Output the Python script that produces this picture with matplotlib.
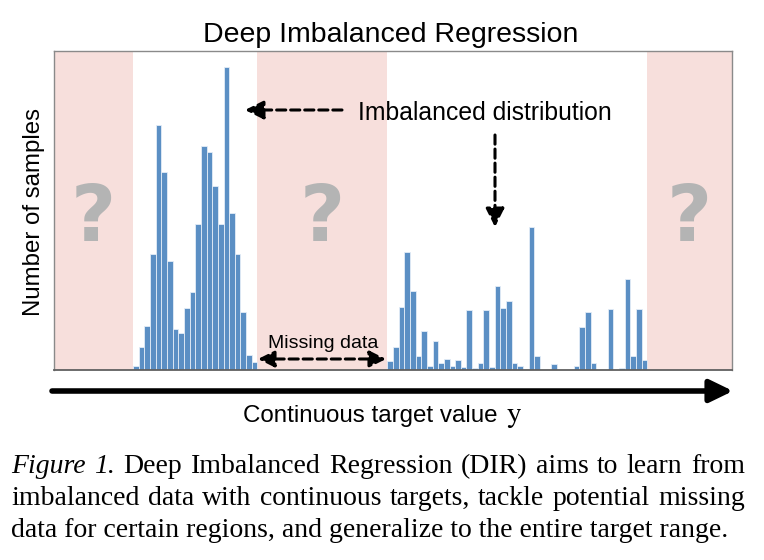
import numpy as np
import matplotlib
matplotlib.use('Agg')
import matplotlib.pyplot as plt

plt.rcParams['font.family'] = ['Liberation Sans', 'DejaVu Sans']
plt.rcParams['mathtext.fontset'] = 'stix'

# one bin = one unit on the x axis, values = number of samples per bin
n_bins = 120
left_start = 14
left_counts = [4, 23, 44, 116, 245, 198, 109, 41, 37, 62, 78, 146, 224, 218,
               184, 146, 303, 157, 116, 58, 15, 8]
right_start = 59
right_counts = [9, 23, 63, 118, 79, 14, 39, 4, 29, 7, 11, 4, 10, 3, 60, 2, 7,
                60, 3, 84, 62, 69, 7, 4, 1, 143, 14, 0, 0, 6, 0, 0, 0, 4, 43,
                58, 7, 0, 0, 61, 0, 2, 91, 14, 61, 10]
# bin ranges with no data at all
empty_regions = [(0, 14), (36, 59), (105, 120)]

title = 'Deep Imbalanced Regression'
caption_lines = [
    'Figure 1. Deep Imbalanced Regression (DIR) aims to learn from',
    'imbalanced data with continuous targets, tackle potential missing',
    'data for certain regions, and generalize to the entire target range.',
]

W, H = 764, 560
fig = plt.figure(figsize=(W / 100, H / 100), dpi=100)


def P(x, y):
    # image pixel (top-left origin) -> figure pixels
    return (x, H - y)


ax = fig.add_axes([54 / W, 1 - 370 / H, 678 / W, 319 / H])

for a, b in empty_regions:
    ax.axvspan(a, b, color='#f7dfdc', lw=0, zorder=0)
    ax.text((a + b) / 2, 151, '?', ha='center', va='center', fontsize=56,
            fontweight='bold', color='#b4b4b4', family='DejaVu Sans', zorder=1)

bar_style = dict(width=1, align='edge', color='#5b8fc4', edgecolor='#e4edf7',
                 linewidth=0.6, zorder=2)
ax.bar(left_start + np.arange(len(left_counts)), left_counts, **bar_style)
ax.bar(right_start + np.arange(len(right_counts)), right_counts, **bar_style)

ax.set_xlim(0, n_bins)
ax.set_ylim(0, 319)
ax.set_xticks([])
ax.set_yticks([])
for s in ['top', 'left', 'right']:
    ax.spines[s].set_color('#8a8a8a')
    ax.spines[s].set_linewidth(1)
ax.spines['bottom'].set_color('#606060')
ax.spines['bottom'].set_linewidth(1.3)

fig.text(*P(391, 42), title, transform=None, ha='center', va='baseline', fontsize=20.5)
fig.text(*P(34, 212), 'Number of samples', transform=None, rotation=90,
         ha='center', va='center', fontsize=17.3)

dash = dict(color='k', lw=2.2, ls=(0, (3, 1.6)), shrinkA=0, shrinkB=0,
            mutation_scale=14)
ax.annotate('', xy=P(245, 110), xytext=P(342, 110), xycoords='figure pixels',
            arrowprops=dict(arrowstyle='-|>,head_length=0.8,head_width=0.4', **dash))
fig.text(*P(358, 120), 'Imbalanced distribution', transform=None,
         ha='left', va='baseline', fontsize=17.8)
ax.annotate('', xy=P(495, 227), xytext=P(495, 135), xycoords='figure pixels',
            arrowprops=dict(arrowstyle='-|>,head_length=0.8,head_width=0.4', **dash))

fig.text(*P(323, 348), 'Missing data', transform=None, ha='center',
         va='baseline', fontsize=14)
ax.annotate('', xy=P(258, 359), xytext=P(386, 359), xycoords='figure pixels',
            arrowprops=dict(arrowstyle='<|-|>,head_length=0.7,head_width=0.35',
                            **dash))

# long target axis arrow below the plot
ax.annotate('', xy=P(733, 391), xytext=P(52, 391), xycoords='figure pixels',
            arrowprops=dict(arrowstyle='-|>,head_length=0.7,head_width=0.34',
                            color='k', lw=4, shrinkA=0, shrinkB=0,
                            mutation_scale=20), annotation_clip=False)
fig.text(*P(243, 422), 'Continuous target value', transform=None,
         ha='left', va='baseline', fontsize=17.4)
fig.text(*P(506, 422), r'$\mathrm{y}$', transform=None,
         ha='left', va='baseline', fontsize=21)

# justified caption
fig.canvas.draw()
renderer = fig.canvas.get_renderer()
x0, x1 = 11, 745
for i, line in enumerate(caption_lines):
    yb = 473 + 32 * i
    if i == len(caption_lines) - 1:
        fig.text(*P(x0, yb), line, transform=None, ha='left', va='baseline',
                 fontsize=20, family='Liberation Serif')
        continue
    words = line.split(' ')
    texts = []
    for j, w in enumerate(words):
        style = 'italic' if (i == 0 and j < 2) else 'normal'
        t = fig.text(0, 0, w, transform=None, ha='left', va='baseline',
                     fontsize=20, family='Liberation Serif', style=style)
        texts.append(t)
    widths = [t.get_window_extent(renderer).width for t in texts]
    gap = (x1 - x0 - sum(widths)) / (len(words) - 1)
    x = x0
    for t, w in zip(texts, widths):
        t.set_position(P(x, yb))
        x += w + gap

fig.savefig('out.png', dpi=100)
